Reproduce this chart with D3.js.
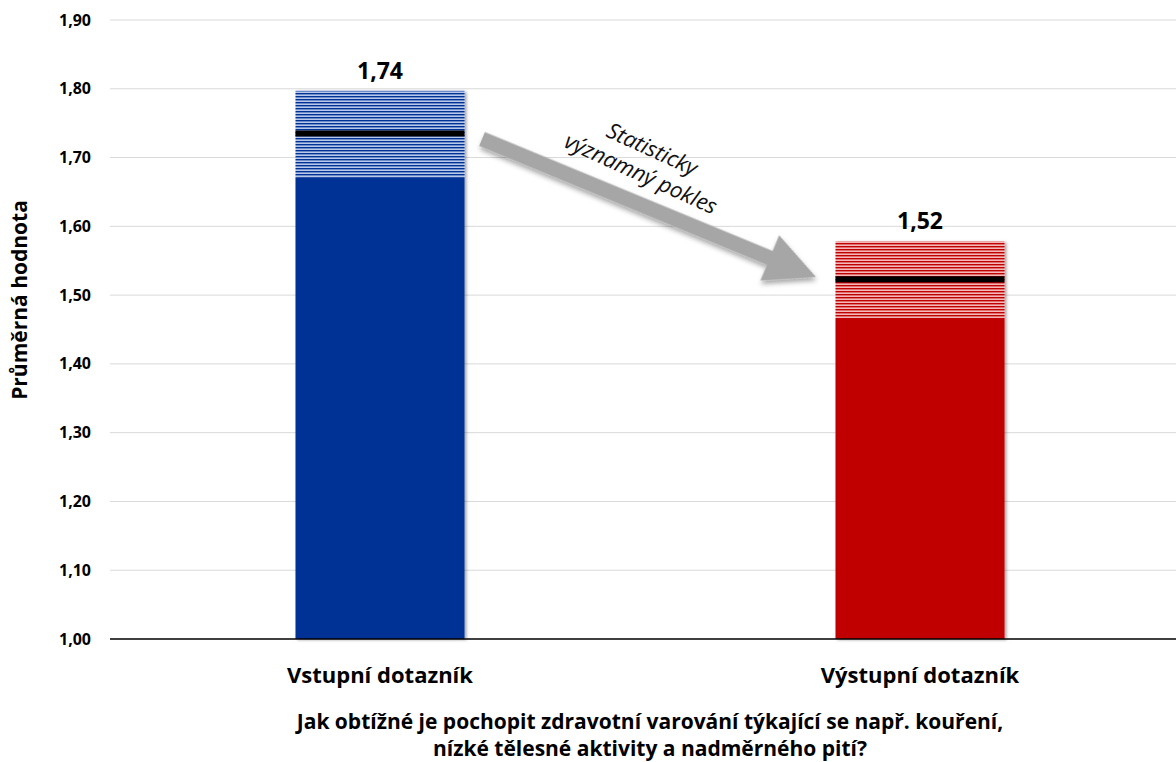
<!DOCTYPE html>
<html><head><meta charset="utf-8">
<script src="https://cdn.jsdelivr.net/npm/d3@7"></script>
<style>body{margin:0;background:#fff}svg{display:block}text{font-family:"Open Sans",sans-serif}</style>
</head><body><svg id="c" width="1176" height="762"></svg>
<script>
const categories = ["Vstupní dotazník", "Výstupní dotazník"];
const means = [1.735, 1.523];
const meanLabels = ["1,74", "1,52"];
const ciLow = [1.671, 1.467];
const ciHigh = [1.797, 1.578];
const colors = ["#003296", "#c00000"];
const lightColors = ["#b8c8ea", "#f4b8b8"];
const yTicks = [1.0, 1.1, 1.2, 1.3, 1.4, 1.5, 1.6, 1.7, 1.8, 1.9];
const yTitle = "Průměrná hodnota";
const xTitle = ["Jak obtížné je pochopit zdravotní varování týkající se např. kouření,", "nízké tělesné aktivity a nadměrného pití?"];
const arrowText = ["Statisticky", "významný pokles"];

const svg = d3.select("#c");
const y = d3.scaleLinear().domain([1.0, 1.9]).range([639, 20]);
const x = d3.scaleBand().domain(categories).range([110, 1190]).paddingInner(0.687).paddingOuter(0.3435);

const defs = svg.append("defs");
categories.forEach((c, i) => {
  const p = defs.append("pattern").attr("id", "hatch" + i).attr("patternUnits", "userSpaceOnUse")
    .attr("width", 10).attr("height", 3);
  p.append("rect").attr("width", 10).attr("height", 3).attr("fill", lightColors[i]);
  p.append("rect").attr("width", 10).attr("height", 1.4).attr("fill", colors[i]);
});
const sh = defs.append("filter").attr("id", "shadow").attr("x", "-10%").attr("y", "-10%").attr("width", "130%").attr("height", "130%");
sh.append("feDropShadow").attr("dx", 2).attr("dy", 1).attr("stdDeviation", 1.5).attr("flood-color", "#000").attr("flood-opacity", 0.35);
const sh2 = defs.append("filter").attr("id", "ashadow").attr("x", "-20%").attr("y", "-50%").attr("width", "140%").attr("height", "200%");
sh2.append("feDropShadow").attr("dx", 2).attr("dy", 3).attr("stdDeviation", 2.5).attr("flood-color", "#000").attr("flood-opacity", 0.35);

// gridlines
svg.append("g").selectAll("line").data(yTicks.filter(d => d > 1.0)).join("line")
  .attr("x1", 110).attr("x2", 1176).attr("y1", d => y(d)).attr("y2", d => y(d))
  .attr("stroke", "#d9d9d9").attr("stroke-width", 1);

// y tick labels
const fmt = d => d.toFixed(2).replace(".", ",");
svg.append("g").selectAll("text").data(yTicks).join("text")
  .attr("x", 91).attr("y", d => y(d)).attr("dy", "0.35em").attr("text-anchor", "end")
  .attr("font-size", 16).attr("font-weight", "bold").attr("fill", "#000").text(fmt);

// bars
const g = svg.append("g");
categories.forEach((c, i) => {
  const bx = x(c), bw = x.bandwidth();
  const bg = g.append("g").attr("filter", "url(#shadow)");
  bg.append("rect").attr("x", bx).attr("width", bw).attr("y", y(ciLow[i])).attr("height", y(1.0) - y(ciLow[i])).attr("fill", colors[i]);
  bg.append("rect").attr("x", bx).attr("width", bw).attr("y", y(ciHigh[i])).attr("height", y(ciLow[i]) - y(ciHigh[i])).attr("fill", `url(#hatch${i})`);
  g.append("rect").attr("x", bx).attr("width", bw).attr("y", y(means[i]) - 3).attr("height", 6).attr("fill", "#000");
  g.append("text").attr("x", bx + bw / 2).attr("y", y(ciHigh[i]) - 12).attr("text-anchor", "middle")
    .attr("font-size", 23).attr("font-weight", "bold").attr("fill", "#000").text(meanLabels[i]);
  svg.append("text").attr("x", bx + bw / 2).attr("y", 683).attr("text-anchor", "middle")
    .attr("font-size", 22).attr("font-weight", "bold").attr("fill", "#000").text(c);
});

// baseline
svg.append("line").attr("x1", 110).attr("x2", 1176).attr("y1", y(1.0)).attr("y2", y(1.0)).attr("stroke", "#000").attr("stroke-width", 1.3);

// y title
svg.append("text").attr("transform", `translate(27,300) rotate(-90)`).attr("text-anchor", "middle")
  .attr("font-size", 21).attr("font-weight", "bold").attr("fill", "#000").text(yTitle);

// x title (one text, two lines)
const tt = svg.append("text").attr("text-anchor", "middle")
  .attr("font-size", 21).attr("font-weight", "bold").attr("fill", "#000");
tt.selectAll("tspan").data(xTitle).join("tspan")
  .attr("x", 650).attr("y", (d, i) => 729 + i * 26.5).text(d => d);

// arrow
const ax0 = 482, ay0 = 139, ax1 = 816, ay1 = 277;
const ang = Math.atan2(ay1 - ay0, ax1 - ax0) * 180 / Math.PI;
const len = Math.hypot(ax1 - ax0, ay1 - ay0);
const sw = 7.5, hw = 24.5, hl = 50;
svg.append("path").attr("transform", `translate(${ax0},${ay0}) rotate(${ang})`)
  .attr("d", `M0,${-sw} L${len - hl},${-sw} L${len - hl},${-hw} L${len},0 L${len - hl},${hw} L${len - hl},${sw} L0,${sw} Z`)
  .attr("fill", "#a6a6a6").attr("filter", "url(#ashadow)");
const tg = svg.append("g").attr("transform", `translate(644,167) rotate(${ang + 2})`);
tg.selectAll("text").data(arrowText).join("text")
  .attr("x", 0).attr("y", (d, i) => -12 + i * 27).attr("text-anchor", "middle")
  .attr("font-size", 22).attr("font-style", "italic").attr("fill", "#111").text(d => d);
</script></body></html>
